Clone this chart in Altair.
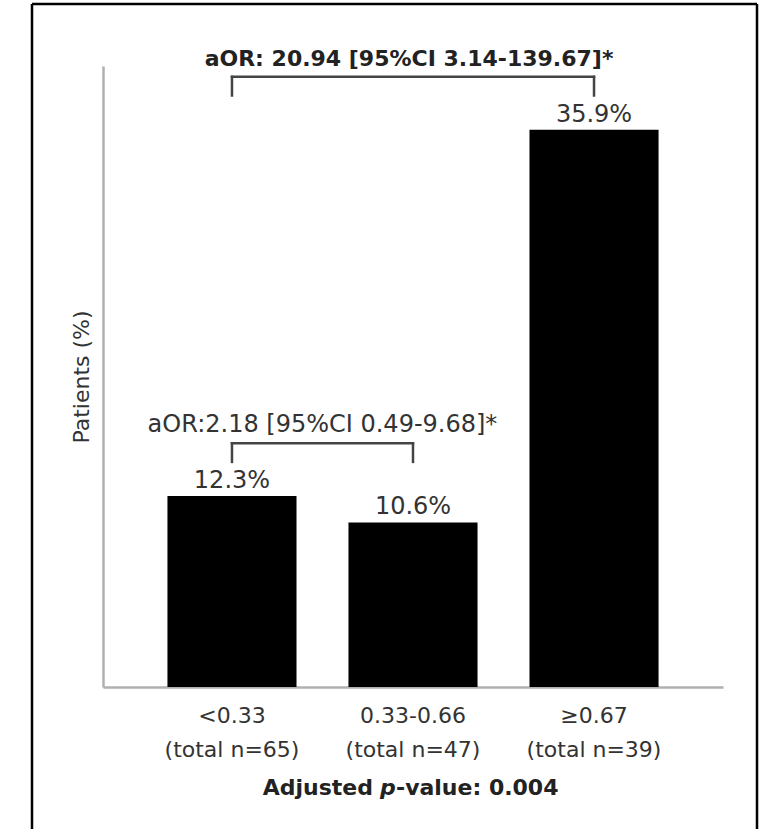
import altair as alt
import pandas as pd

# Dose groups, group sizes and share of patients with the outcome
groups = ["<0.33", "0.33-0.66", "≥0.67"]
totals = [65, 47, 39]
patients_pct = [12.3, 10.6, 35.9]

# Pairwise comparisons drawn as brackets above the bars
cmp_first = ["<0.33", "<0.33"]
cmp_second = ["0.33-0.66", "≥0.67"]
cmp_labels = ["aOR:2.18 [95%CI 0.49-9.68]*", "aOR: 20.94 [95%CI 3.14-139.67]*"]

FONT = "DejaVu Sans"
TEXT = "#333333"
W, H = 620, 621
PAD_IN, PAD_OUT = 0.287, 0.356
STEP = W / (len(groups) - PAD_IN + 2 * PAD_OUT)

keys = [f"{g}|(total n={n})" for g, n in zip(groups, totals)]
key_of = dict(zip(groups, keys))
bars = pd.DataFrame({"key": keys, "pct": patients_pct})

pct_of = dict(zip(groups, patients_pct))
brackets = pd.DataFrame({
    "a": [key_of[g] for g in cmp_first],
    "b": [key_of[g] for g in cmp_second],
    "label": cmp_labels,
    "level": [max(pct_of[a], pct_of[b]) + 3.4 for a, b in zip(cmp_first, cmp_second)],
})
brackets["low"] = brackets["level"] - 1.2
brackets["text_y"] = brackets["level"] + 0.7

x_scale = alt.Scale(domain=keys, paddingInner=PAD_IN, paddingOuter=PAD_OUT)
y_scale = alt.Scale(domain=[0, 40], nice=False)

x_axis = alt.Axis(
    title=None, ticks=False, grid=False, labelAngle=0,
    labelExpr="split(datum.label, '|')",
    labelFont=FONT, labelFontSize=22, labelColor=TEXT,
    labelPadding=18, labelLineHeight=34, labelLimit=0,
    domainColor="#b0b0b0", domainWidth=2.5,
)
y_axis = alt.Axis(
    title="Patients (%)", ticks=False, labels=False, grid=False,
    titleFont=FONT, titleFontSize=22, titleFontWeight="normal",
    titleColor=TEXT, titlePadding=10,
    domainColor="#b0b0b0", domainWidth=2.5,
)

base = alt.Chart(bars)
bar_layer = base.mark_bar(color="black").encode(
    x=alt.X("key:N", scale=x_scale, axis=x_axis, sort=None),
    y=alt.Y("pct:Q", scale=y_scale, axis=y_axis),
)
value_layer = base.mark_text(
    font=FONT, fontSize=24, color=TEXT, baseline="alphabetic", dy=-8
).encode(
    x=alt.X("key:N", sort=None),
    y="pct:Q",
    text=alt.Text("pct:Q", format=".1f"),
).transform_calculate(txt="format(datum.pct, '.1f') + '%'").encode(text="txt:N")

bk = alt.Chart(brackets)
rule_style = dict(color="#444444", strokeWidth=2.5, strokeCap="square")
h_rule = bk.mark_rule(**rule_style).encode(x="a:N", x2="b:N", y="level:Q")
l_tick = bk.mark_rule(**rule_style).encode(x="a:N", y="level:Q", y2="low:Q")
r_tick = bk.mark_rule(**rule_style).encode(x="b:N", y="level:Q", y2="low:Q")

low_text = alt.Chart(brackets.iloc[[0]]).mark_text(
    font=FONT, fontSize=24, color=TEXT, baseline="alphabetic", dx=STEP / 2
).encode(x="a:N", y="text_y:Q", text="label:N")
top_text = alt.Chart(brackets.iloc[[1]]).mark_text(
    font=FONT, fontSize=22, fontWeight="bold", color="#222222",
    baseline="alphabetic", dx=STEP - 4
).encode(x="a:N", y="text_y:Q", text="label:N")

# x-axis caption with an italic "p"
one = pd.DataFrame({"k": [0]})
cap_y = alt.value(729)
cap_style = dict(font=FONT, fontSize=22, fontWeight="bold", color="#222222",
                 baseline="alphabetic")
cap1 = alt.Chart(one).mark_text(align="right", **cap_style).encode(
    x=alt.value(270), y=cap_y, text=alt.value("Adjusted"))
cap2 = alt.Chart(one).mark_text(align="left", fontStyle="italic", **cap_style).encode(
    x=alt.value(277), y=cap_y, text=alt.value("p"))
cap3 = alt.Chart(one).mark_text(align="left", **cap_style).encode(
    x=alt.value(293), y=cap_y, text=alt.value("-value: 0.004"))

# outer frame around the figure
frame_style = dict(color="black", strokeWidth=2.5)
fl = alt.Chart(one).mark_rule(**frame_style).encode(
    x=alt.value(-71), y=alt.value(-62), y2=alt.value(780))
ft = alt.Chart(one).mark_rule(**frame_style).encode(
    x=alt.value(-71), x2=alt.value(654), y=alt.value(-62))
fr = alt.Chart(one).mark_rule(**frame_style).encode(
    x=alt.value(654), y=alt.value(-62), y2=alt.value(780))

chart = alt.layer(
    bar_layer, value_layer, h_rule, l_tick, r_tick, low_text, top_text,
    cap1, cap2, cap3, fl, ft, fr,
).properties(
    width=W, height=H,
    autosize=alt.AutoSizeParams(type="none"),
    padding={"left": 103, "top": 66, "right": 37, "bottom": 142},
    background="white",
).configure_view(stroke=None)

chart.save("out.html", embed_options={"renderer": "svg", "actions": False})
